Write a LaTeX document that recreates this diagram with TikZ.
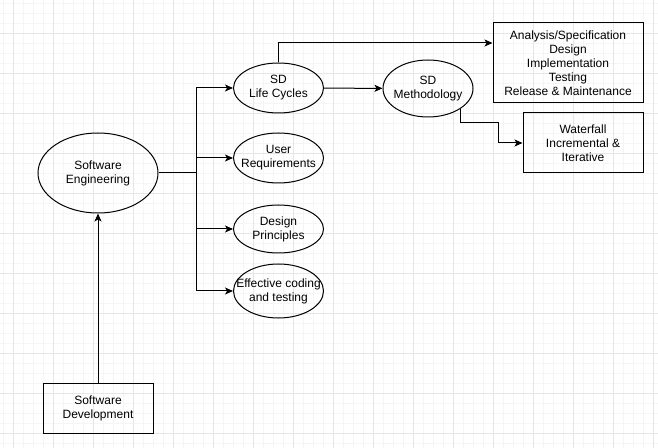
\documentclass[tikz,border=0pt]{standalone}
\usepackage{fontspec}
\setmainfont{Liberation Sans}
\usetikzlibrary{shapes.geometric,arrows.meta}
\definecolor{gridmajor}{RGB}{230,230,230}
\definecolor{gridminor}{RGB}{245,245,245}
\begin{document}
\begin{tikzpicture}[x=1bp,y=-1bp,font=\fontsize{12bp}{14bp}\selectfont]
		\tikzset{>={Stealth[length=8bp,width=7bp,inset=2bp]}}
		\tikzset{oval/.style={draw,line width=1bp,ellipse,inner sep=0pt,minimum width=90bp,minimum height=50bp,label={[align=center]center:#1}}}
		\tikzset{box/.style={draw,line width=1bp,rectangle,inner sep=0pt,align=center}}
		\tikzset{link/.style={line width=1bp}}
		\useasboundingbox (0,0) rectangle (658,448);
		\fill[white] (0,0) rectangle (658,448);
		% grid
		\foreach \x in {3.3,13.3,...,653.3} \draw[gridminor,line width=1bp] (\x,0) -- (\x,448);
		\foreach \y in {3.3,13.3,...,443.3} \draw[gridminor,line width=1bp] (0,\y) -- (658,\y);
		\foreach \x in {13.3,53.3,...,653.3} \draw[gridmajor,line width=1bp] (\x,0) -- (\x,448);
		\foreach \y in {33.3,73.3,...,433.3} \draw[gridmajor,line width=1bp] (0,\y) -- (658,\y);
		% nodes
		\node[oval={Software\\Engineering},minimum width=120bp,minimum height=80bp] (SE) at (98,173) {};
		\node[box,minimum width=110bp,minimum height=50bp] (SDev) at (98,408) {Software\\Development};
		\node[oval={SD\\Life Cycles}] (LC) at (278.5,88) {};
		\node[oval={User\\Requirements}] (UR) at (278.5,158) {};
		\node[oval={Design\\Principles},minimum height=48bp] (DP) at (278.5,229) {};
		\node[oval={Effective coding\\and testing},minimum height=54bp] (EC) at (278.5,291) {};
		\node[oval={SD\\Methodology},minimum height=57bp] (M) at (428,88.5) {};
		\node[box,minimum width=150bp,minimum height=80bp] (P) at (568,63) {Analysis/Specification\\Design\\Implementation\\Testing\\Release \& Maintenance};
		\node[box,minimum width=120bp,minimum height=60bp] (W) at (583,143) {Waterfall\\Incremental \&\\Iterative};
		% connectors
		\coordinate (J) at (196,173);
		\coordinate (K) at (498,123);
		\draw[link,->] (SDev) -- (SE);
		\draw[link] (SE) -- (J);
		\foreach \n in {LC,UR,DP,EC} \draw[link,->] (J) |- (\n);
		\draw[link,->] (LC) -- (M);
		\draw[link,->] (LC.north) |- ([yshift=20bp]P.west);
		\draw[link,->] (M.south east) |- (K) |- (W.west);
	    \end{tikzpicture}
\end{document}
